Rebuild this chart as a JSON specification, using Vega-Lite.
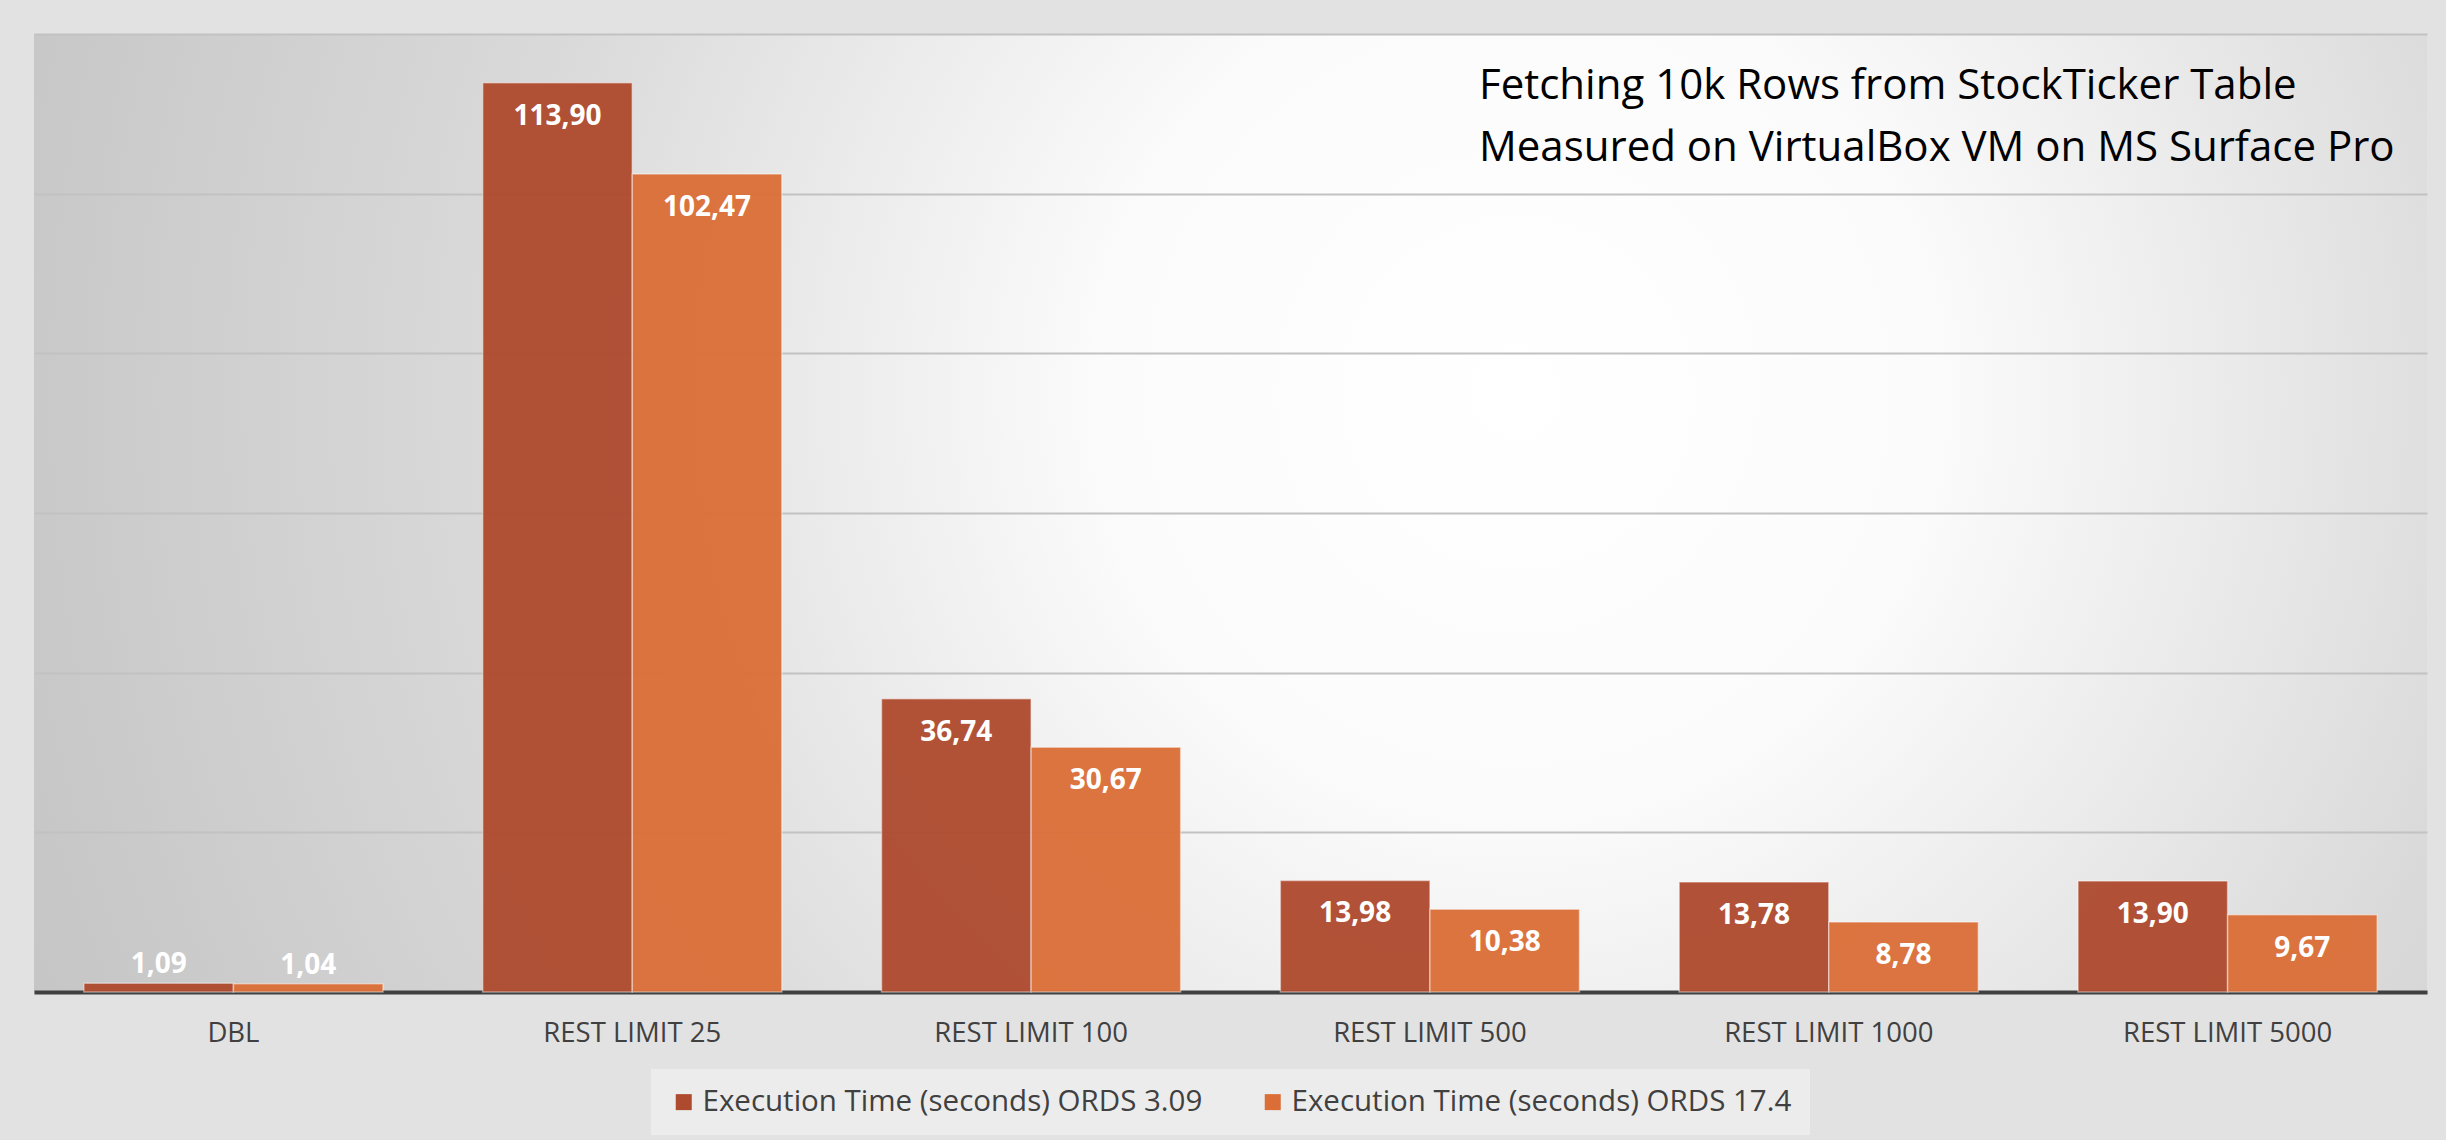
{
  "$schema": "https://vega.github.io/schema/vega-lite/v6.json",
  "width": 2393,
  "height": 958,
  "autosize": {"type": "none"},
  "padding": {"left": 34, "top": 34, "right": 19, "bottom": 148},
  "background": "#e2e2e2",
  "title": {
    "text": ["Fetching 10k Rows from StockTicker Table", "Measured on VirtualBox VM on MS Surface Pro"],
    "anchor": "start",
    "frame": "group",
    "orient": "top",
    "dx": 1445,
    "offset": -178,
    "baseline": "bottom",
    "align": "left",
    "font": "Open Sans",
    "fontSize": 42,
    "fontWeight": "normal",
    "color": "#000000",
    "lineHeight": 62
  },
  "data": {
    "values": [
      {"category": "DBL", "series": "Execution Time (seconds) ORDS 3.09", "value": 1.09},
      {"category": "DBL", "series": "Execution Time (seconds) ORDS 17.4", "value": 1.04},
      {"category": "REST LIMIT 25", "series": "Execution Time (seconds) ORDS 3.09", "value": 113.90},
      {"category": "REST LIMIT 25", "series": "Execution Time (seconds) ORDS 17.4", "value": 102.47},
      {"category": "REST LIMIT 100", "series": "Execution Time (seconds) ORDS 3.09", "value": 36.74},
      {"category": "REST LIMIT 100", "series": "Execution Time (seconds) ORDS 17.4", "value": 30.67},
      {"category": "REST LIMIT 500", "series": "Execution Time (seconds) ORDS 3.09", "value": 13.98},
      {"category": "REST LIMIT 500", "series": "Execution Time (seconds) ORDS 17.4", "value": 10.38},
      {"category": "REST LIMIT 1000", "series": "Execution Time (seconds) ORDS 3.09", "value": 13.78},
      {"category": "REST LIMIT 1000", "series": "Execution Time (seconds) ORDS 17.4", "value": 8.78},
      {"category": "REST LIMIT 5000", "series": "Execution Time (seconds) ORDS 3.09", "value": 13.90},
      {"category": "REST LIMIT 5000", "series": "Execution Time (seconds) ORDS 17.4", "value": 9.67}
    ]
  },
  "encoding": {
    "x": {
      "field": "category",
      "type": "nominal",
      "sort": ["DBL", "REST LIMIT 25", "REST LIMIT 100", "REST LIMIT 500", "REST LIMIT 1000", "REST LIMIT 5000"],
      "scale": {"paddingInner": 0.25, "paddingOuter": 0.125},
      "axis": {
        "title": null,
        "ticks": false,
        "labelAngle": 0,
        "labelLimit": 1000,
        "domainColor": "#404040",
        "domainWidth": 4,
        "labelFont": "Open Sans",
        "labelFontSize": 27.5,
        "labelColor": "#404040",
        "labelPadding": 27
      }
    },
    "xOffset": {
      "field": "series",
      "type": "nominal",
      "sort": ["Execution Time (seconds) ORDS 3.09", "Execution Time (seconds) ORDS 17.4"],
      "scale": {"paddingInner": 0, "paddingOuter": 0}
    },
    "y": {
      "field": "value",
      "type": "quantitative",
      "scale": {"domain": [0, 120], "nice": false},
      "axis": {
        "title": null,
        "labels": false,
        "ticks": false,
        "domain": false,
        "grid": true,
        "values": [0, 20, 40, 60, 80, 100, 120],
        "gridColor": "#c2c2c2",
        "gridWidth": 2
      }
    }
  },
  "layer": [
    {
      "mark": {"type": "bar", "opacity": 0.95, "stroke": "#ffffff", "strokeOpacity": 0.45, "strokeWidth": 1.5},
      "encoding": {
        "color": {
          "field": "series",
          "type": "nominal",
          "scale": {
            "domain": ["Execution Time (seconds) ORDS 3.09", "Execution Time (seconds) ORDS 17.4"],
            "range": ["#ae4a2e", "#db6e37"]
          },
          "legend": {
            "orient": "bottom",
            "direction": "horizontal",
            "title": null,
            "symbolType": "square",
            "symbolSize": 256,
            "symbolStrokeWidth": 0,
            "symbolOpacity": 1,
            "labelFont": "Open Sans",
            "labelFontSize": 29.5,
            "labelColor": "#404040",
            "labelOffset": 4,
            "labelLimit": 1000,
            "columnPadding": 55,
            "fillColor": "rgba(255,255,255,0.35)",
            "padding": 18,
            "offset": 22
          }
        }
      }
    },
    {
      "transform": [{"filter": "datum.value >= 5"}],
      "mark": {"type": "text", "color": "#ffffff", "font": "Open Sans", "fontWeight": "bold", "fontSize": 28, "baseline": "middle", "dy": 34},
      "encoding": {"text": {"field": "value", "type": "quantitative", "format": ".2f"}}
    },
    {
      "transform": [{"filter": "datum.value < 5"}],
      "mark": {"type": "text", "color": "#ffffff", "font": "Open Sans", "fontWeight": "bold", "fontSize": 28, "baseline": "middle", "dy": -18},
      "encoding": {"text": {"field": "value", "type": "quantitative", "format": ".2f"}}
    }
  ],
  "config": {
    "locale": {
      "number": {"decimal": ",", "thousands": ".", "grouping": [3], "currency": ["", " €"]}
    },
    "view": {
      "stroke": null,
      "fill": {
        "gradient": "radial",
        "x1": 0.62, "y1": 0.45, "r1": 0,
        "x2": 0.62, "y2": 0.45, "r2": 0.7,
        "stops": [
          {"offset": 0, "color": "#ffffff"},
          {"offset": 0.25, "color": "#fbfbfb"},
          {"offset": 0.6, "color": "#dadada"},
          {"offset": 0.9, "color": "#c8c8c8"},
          {"offset": 1, "color": "#c4c4c4"}
        ]
      }
    },
    "legend": {"layout": {"bottom": {"anchor": "middle"}}}
  }
}
